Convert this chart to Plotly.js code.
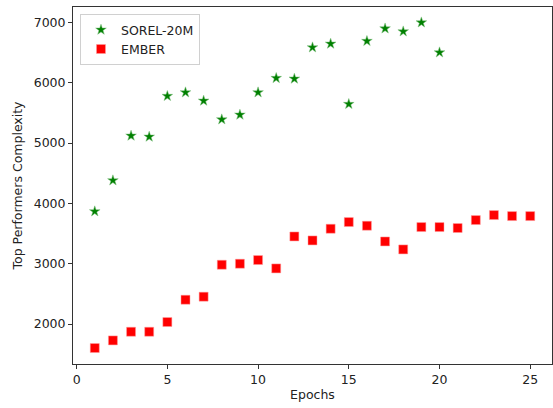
<!DOCTYPE html>
<html>
<head>
<meta charset="utf-8">
<script src="https://cdn.plot.ly/plotly-3.0.1.min.js"></script>
<style>html,body{margin:0;padding:0;background:#fff;}#chart{width:553px;height:408px;}</style>
</head>
<body>
<div id="chart"></div>
<script>
const sorelEpochs = [1,2,3,4,5,6,7,8,9,10,11,12,13,14,15,16,17,18,19,20];
const sorelValues = [3867,4381,5122,5105,5780,5840,5702,5392,5470,5840,6078,6067,6586,6647,5647,6692,6900,6851,7000,6503];
const emberEpochs = [1,2,3,4,5,6,7,8,9,10,11,12,13,14,15,16,17,18,19,20,21,22,23,24,25];
const emberValues = [1602,1728,1872,1872,2033,2403,2453,2983,3000,3061,2922,3452,3386,3580,3691,3630,3369,3237,3608,3608,3592,3724,3807,3790,3790];
const xTicks = [0,5,10,15,20,25];
const yTicks = [2000,3000,4000,5000,6000,7000];

const font = {family: 'DejaVu Sans', size: 12.5, color: '#222'};
const traces = [
  {x: sorelEpochs, y: sorelValues, type: 'scatter', mode: 'markers', name: 'SOREL-20M',
   marker: {symbol: 'star', size: 8, color: '#008000', line: {width: 0.5, color: '#7fbf7f'}}},
  {x: emberEpochs, y: emberValues, type: 'scatter', mode: 'markers', name: 'EMBER',
   marker: {symbol: 'square', size: 9, color: '#ff0000', line: {width: 0.5, color: '#ff9f9f'}}}
];
const axisCommon = {
  showgrid: false, zeroline: false, showline: true, mirror: true,
  linecolor: '#333', linewidth: 1, ticks: 'outside', ticklen: 4, tickwidth: 1,
  tickcolor: '#333', tickfont: font
};
const layout = {
  width: 553, height: 408,
  margin: {l: 73, r: 1, t: 7, b: 44},
  paper_bgcolor: '#fff', plot_bgcolor: '#fff',
  font: font,
  showlegend: true,
  legend: {x: 0.0146, y: 0.98, xanchor: 'left', yanchor: 'top',
    bgcolor: 'rgba(255,255,255,0.8)', bordercolor: '#d0d0d0', borderwidth: 1,
    font: font},
  xaxis: Object.assign({}, axisCommon, {range: [-0.2, 26.2], tickvals: xTicks,
    ticktext: xTicks.map(String), title: {text: 'Epochs', font: font, standoff: 4}}),
  yaxis: Object.assign({}, axisCommon, {range: [1337, 7257], tickvals: yTicks,
    ticktext: yTicks.map(String), title: {text: 'Top Performers Complexity', font: font, standoff: 8}})
};
Plotly.newPlot('chart', traces, layout, {displayModeBar: false, staticPlot: true});
</script>
</body>
</html>
